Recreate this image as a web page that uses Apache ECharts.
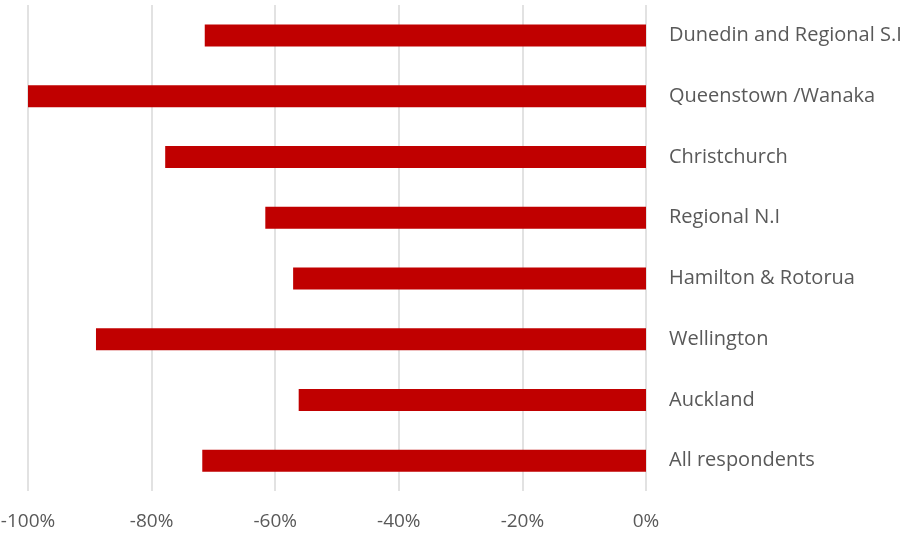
<!DOCTYPE html>
<html>
<head>
<meta charset="utf-8">
<script src="https://cdn.jsdelivr.net/npm/echarts@6/dist/echarts.min.js"></script>
<style>
  html, body { margin: 0; padding: 0; background: #ffffff; }
  #chart { width: 918px; height: 534px; }
</style>
</head>
<body>
<div id="chart"></div>
<script>
// Regions, listed bottom to top as the category axis draws them
const categories = [
  'All respondents',
  'Auckland',
  'Wellington',
  'Hamilton & Rotorua',
  'Regional N.I',
  'Christchurch',
  'Queenstown /Wanaka',
  'Dunedin and Regional S.I'
];

// Percentage change per region
const values = [-71.8, -56.2, -89.0, -57.1, -61.6, -77.8, -100, -71.4];

// Value axis range and step (percent)
const axisMin = -100;
const axisMax = 0;
const axisStep = 20;

const textColor = '#595959';
const fontFamily = '"Open Sans", "Noto Sans", sans-serif';

const chart = echarts.init(document.getElementById('chart'), null, { renderer: 'canvas' });

chart.setOption({
  animation: false,
  backgroundColor: '#ffffff',
  grid: {
    left: 28,
    right: 272,
    top: 5,
    bottom: 43,
    containLabel: false,
    outerBoundsMode: 'none'
  },
  xAxis: {
    type: 'value',
    min: axisMin,
    max: axisMax,
    interval: axisStep,
    axisLine: { show: false },
    axisTick: { show: false },
    splitLine: { show: true, lineStyle: { color: '#d9d9d9', width: 1.5 } },
    axisLabel: {
      color: textColor,
      fontSize: 19,
      fontFamily: fontFamily,
      margin: 21,
      formatter: v => v + '%'
    }
  },
  yAxis: {
    type: 'category',
    data: categories,
    position: 'right',
    axisLine: { show: false },
    axisTick: { show: false },
    splitLine: { show: false },
    axisLabel: {
      color: textColor,
      fontSize: 20,
      fontFamily: fontFamily,
      align: 'left',
      margin: 23,
      padding: [2, 0, 0, 0]
    }
  },
  series: [{
    type: 'bar',
    data: values,
    barWidth: 22,
    itemStyle: { color: '#C00000' }
  }]
});
</script>
</body>
</html>
